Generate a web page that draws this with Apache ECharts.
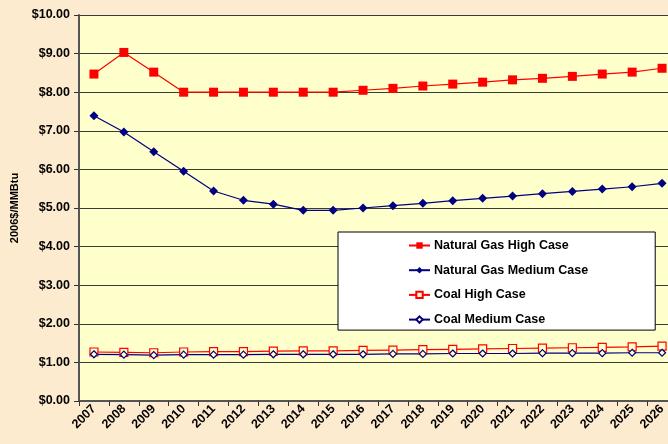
<!DOCTYPE html>
<html>
<head>
<meta charset="utf-8">
<script src="https://cdn.jsdelivr.net/npm/echarts@6/dist/echarts.min.js"></script>
<style>
  html, body { margin: 0; padding: 0; background: #fdebcf; }
  #chart { width: 668px; height: 444px; }
</style>
</head>
<body>
<div id="chart"></div>
<script>
const years = ["2007", "2008", "2009", "2010", "2011", "2012", "2013", "2014", "2015", "2016",
  "2017", "2018", "2019", "2020", "2021", "2022", "2023", "2024", "2025", "2026"];
const gasHigh = [8.47, 9.03, 8.52, 8.0, 8.0, 8.0, 8.0, 8.0, 8.0, 8.05,
  8.1, 8.16, 8.21, 8.26, 8.32, 8.36, 8.41, 8.47, 8.52, 8.62];
const gasMedium = [7.39, 6.97, 6.46, 5.95, 5.44, 5.2, 5.1, 4.94, 4.94, 5.0,
  5.06, 5.12, 5.19, 5.25, 5.31, 5.37, 5.43, 5.49, 5.55, 5.64];
const coalHigh = [1.27, 1.26, 1.25, 1.27, 1.28, 1.28, 1.29, 1.3, 1.3, 1.31,
  1.32, 1.33, 1.34, 1.35, 1.36, 1.37, 1.38, 1.39, 1.4, 1.42];
const coalMedium = [1.21, 1.2, 1.19, 1.2, 1.2, 1.2, 1.21, 1.21, 1.21, 1.21,
  1.22, 1.22, 1.23, 1.23, 1.23, 1.24, 1.24, 1.24, 1.25, 1.25];

const chart = echarts.init(document.getElementById("chart"));
const font = "Arial, 'Liberation Sans', sans-serif";

function lineSeries(name, data, color, symbol, size, filled) {
  return {
    name,
    type: "line",
    data,
    symbol,
    symbolSize: size,
    showAllSymbol: true,
    lineStyle: { color, width: 1.2 },
    itemStyle: filled
      ? { color, borderColor: color, borderWidth: 0 }
      : { color: "#ffffcc", borderColor: color, borderWidth: 1.2 },
    emphasis: { disabled: true },
    animation: false,
  };
}

chart.setOption({
  backgroundColor: "#fdebcf",
  textStyle: { fontFamily: font },
  grid: {
    left: 79,
    top: 15,
    width: 598,
    height: 386,
    outerBoundsMode: "none",
    show: true,
    backgroundColor: "#ffffcc",
    borderWidth: 0,
  },
  legend: {
    orient: "vertical",
    left: 338,
    top: 232,
    padding: [7, 67, 4, 70],
    itemGap: 11.7,
    itemWidth: 21,
    itemHeight: 8,
    backgroundColor: "#ffffff",
    borderColor: "#000000",
    borderWidth: 1,
    textStyle: { fontFamily: font, fontWeight: "bold", fontSize: 12.5, color: "#000", padding: [0, 0, 0, -1] },
    data: ["Natural Gas High Case", "Natural Gas Medium Case", "Coal High Case", "Coal Medium Case"],
  },
  xAxis: {
    type: "category",
    data: years,
    boundaryGap: true,
    axisLine: { lineStyle: { color: "#555", width: 2 } },
    axisTick: { show: true, alignWithLabel: false, length: 5, lineStyle: { color: "#333" } },
    axisLabel: {
      rotate: 45,
      interval: 0,
      margin: 6,
      color: "#000",
      fontWeight: "bold",
      fontSize: 12.5,
      fontFamily: font,
    },
    splitLine: { show: false },
  },
  yAxis: {
    type: "value",
    min: 0,
    max: 10,
    interval: 1,
    name: "2006$/MMBtu",
    nameLocation: "middle",
    nameRotate: 90,
    nameGap: 53,
    nameTextStyle: { fontWeight: "bold", fontSize: 11, color: "#000", fontFamily: font },
    axisLine: { show: true, lineStyle: { color: "#555", width: 2 } },
    axisTick: { show: true, length: 5, lineStyle: { color: "#333" } },
    axisLabel: {
      margin: 9,
      color: "#000",
      fontWeight: "bold",
      fontSize: 12.5,
      fontFamily: font,
      formatter: (v) => "$" + v.toFixed(2),
    },
    splitLine: { show: true, lineStyle: { color: "#3a3a3a", width: 1 } },
  },
  series: [
    lineSeries("Natural Gas High Case", gasHigh, "#ff0000", "rect", 9, true),
    lineSeries("Natural Gas Medium Case", gasMedium, "#000080", "diamond", 9, true),
    lineSeries("Coal High Case", coalHigh, "#ff0000", "rect", 8, false),
    lineSeries("Coal Medium Case", coalMedium, "#000080", "diamond", 7, false),
  ],
});
</script>
</body>
</html>
